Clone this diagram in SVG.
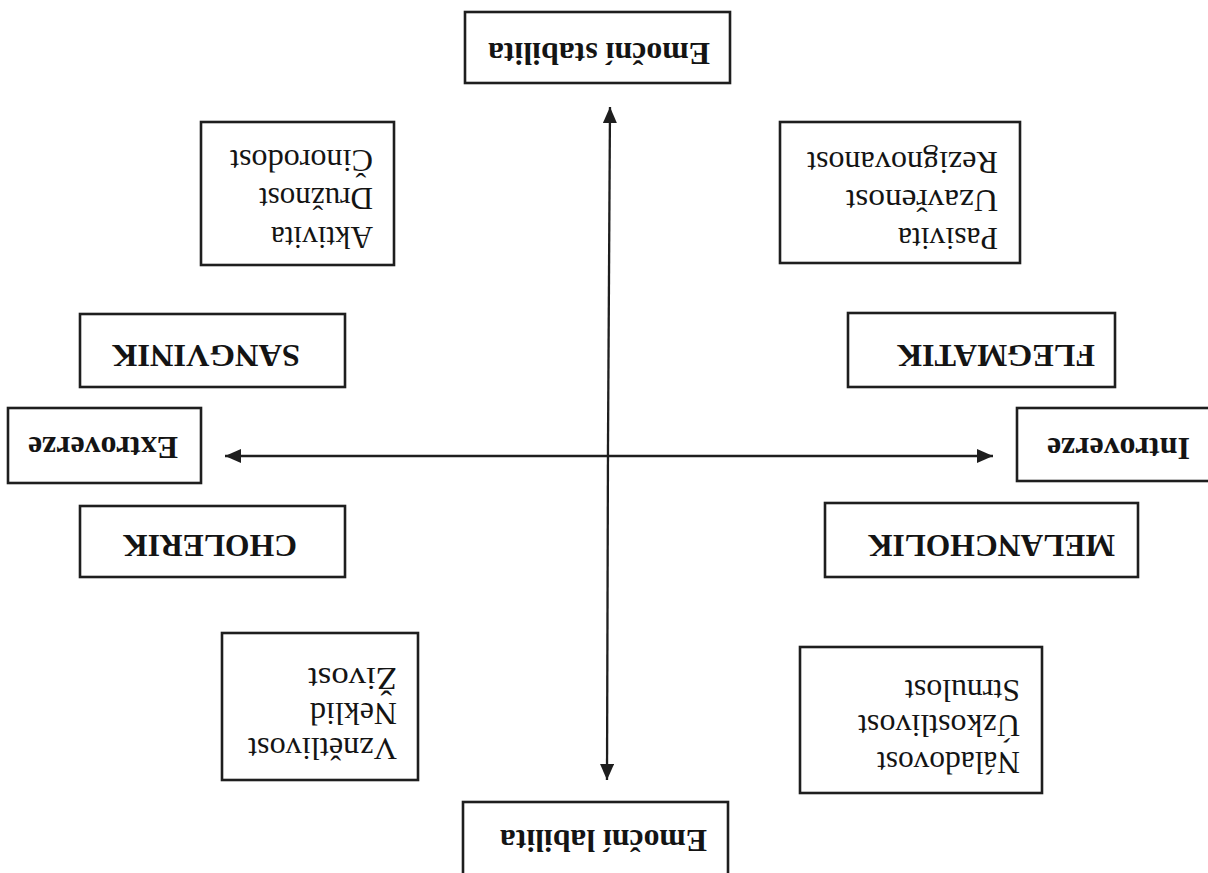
<svg xmlns="http://www.w3.org/2000/svg" width="1208" height="873" viewBox="0 0 1208 873">
<style>
.box{fill:#fff;stroke:#1e1e1e;stroke-width:2.6}
.b{font-family:"Liberation Serif","Times New Roman",serif;font-weight:bold;font-size:32px;fill:#141414}
.r{font-family:"Liberation Serif","Times New Roman",serif;font-size:32px;fill:#141414}
.ax{stroke:#1e1e1e;stroke-width:2.3;fill:none}
</style>
<defs>
<marker id="ah" markerUnits="userSpaceOnUse" markerWidth="17" markerHeight="14" refX="16" refY="7" orient="auto">
<path d="M0,0 L16,7 L0,14 z" fill="#1e1e1e"/>
</marker>
</defs>
<rect x="0" y="0" width="1208" height="873" fill="#fff"/>
<g transform="rotate(180 604 436.5)">
<g id="connectors">
<line class="ax" x1="600" y1="430" x2="598" y2="766" marker-end="url(#ah)"/>
<line class="ax" x1="600" y1="430" x2="601" y2="93" marker-end="url(#ah)"/>
<line class="ax" x1="600" y1="417" x2="983" y2="417" marker-end="url(#ah)"/>
<line class="ax" x1="600" y1="417" x2="215" y2="417" marker-end="url(#ah)"/>
</g>
<g id="emocni-stabilita">
<rect class="box" x="478" y="790" width="265" height="71"/>
<text class="b" x="498" y="830" textLength="222" lengthAdjust="spacingAndGlyphs">Emoční stabilita</text>
</g>
<g id="aktivita">
<rect class="box" x="814" y="608" width="193" height="143"/>
<text class="r" x="835" y="646" textLength="102" lengthAdjust="spacingAndGlyphs">Aktivita</text>
<text class="r" x="835" y="685" textLength="114" lengthAdjust="spacingAndGlyphs">Družnost</text>
<text class="r" x="835" y="723" textLength="143" lengthAdjust="spacingAndGlyphs">Činorodost</text>
</g>
<g id="pasivita">
<rect class="box" x="188" y="610" width="240" height="141"/>
<text class="r" x="210" y="645" textLength="100" lengthAdjust="spacingAndGlyphs">Pasivita</text>
<text class="r" x="210" y="683" textLength="152" lengthAdjust="spacingAndGlyphs">Uzavřenost</text>
<text class="r" x="210" y="721" textLength="191" lengthAdjust="spacingAndGlyphs">Rezignovanost</text>
</g>
<g id="sangvinik">
<rect class="box" x="863" y="486" width="265" height="73"/>
<text class="b" x="908" y="528" textLength="188" lengthAdjust="spacingAndGlyphs">SANGVINIK</text>
</g>
<g id="extroverze">
<rect class="box" x="1007" y="390" width="193" height="75"/>
<text class="b" x="1030" y="436" textLength="150" lengthAdjust="spacingAndGlyphs">Extroverze</text>
</g>
<g id="cholerik">
<rect class="box" x="863" y="296" width="265" height="71"/>
<text class="b" x="911" y="338" textLength="174" lengthAdjust="spacingAndGlyphs">CHOLERIK</text>
</g>
<g id="flegmatik">
<rect class="box" x="93" y="486" width="267" height="74"/>
<text class="b" x="113" y="528" textLength="198" lengthAdjust="spacingAndGlyphs">FLEGMATIK</text>
</g>
<g id="introverze">
<rect class="box" x="-10" y="392" width="201" height="73"/>
<text class="b" x="18" y="435" textLength="143" lengthAdjust="spacingAndGlyphs">Introverze</text>
</g>
<g id="melancholik">
<rect class="box" x="70" y="296" width="313" height="74"/>
<text class="b" x="93" y="338" textLength="247" lengthAdjust="spacingAndGlyphs">MELANCHOLIK</text>
</g>
<g id="vznetlivost">
<rect class="box" x="790" y="93" width="196" height="147"/>
<text class="r" x="811" y="135" textLength="149" lengthAdjust="spacingAndGlyphs">Vznětlivost</text>
<text class="r" x="811" y="170" textLength="87" lengthAdjust="spacingAndGlyphs">Neklid</text>
<text class="r" x="811" y="205" textLength="89" lengthAdjust="spacingAndGlyphs">Živost</text>
</g>
<g id="naladovost">
<rect class="box" x="166" y="80" width="242" height="146"/>
<text class="r" x="188" y="121" textLength="143" lengthAdjust="spacingAndGlyphs">Náladovost</text>
<text class="r" x="188" y="158" textLength="162" lengthAdjust="spacingAndGlyphs">Úzkostlivost</text>
<text class="r" x="188" y="193" textLength="115" lengthAdjust="spacingAndGlyphs">Strnulost</text>
</g>
<g id="emocni-labilita">
<rect class="box" x="480" y="-7" width="265" height="78"/>
<text class="b" x="501" y="43" textLength="207" lengthAdjust="spacingAndGlyphs">Emoční labilita</text>
</g>
</g>
</svg>
